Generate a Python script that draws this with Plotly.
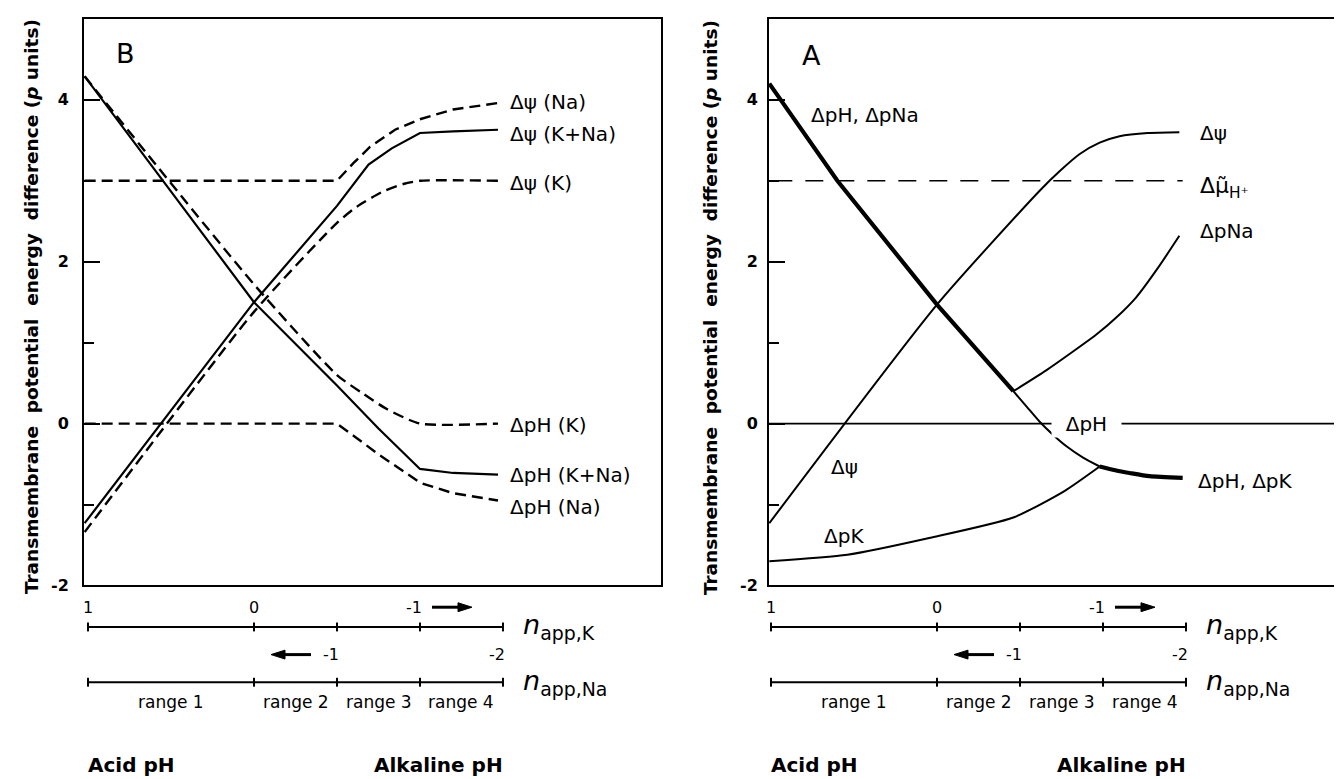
import plotly.graph_objects as go

W, H = 1342, 779
FONT = "DejaVu Sans"

# ---------------- data: panel B (left) ----------------
B_pH_KNa_n = [1.02, 0.0, -0.5, -0.75, -1.0, -1.2, -1.47]
B_pH_KNa_v = [4.29, 1.5, 0.47, -0.06, -0.56, -0.61, -0.63]
B_psi_KNa_n = [1.02, 0.0, -0.5, -0.69, -0.83, -1.0, -1.2, -1.47]
B_psi_KNa_v = [-1.23, 1.5, 2.69, 3.2, 3.4, 3.59, 3.61, 3.63]
B_psi_K_n = [1.02, 0.0, -0.5, -0.62, -0.77, -0.9, -1.0, -1.47]
B_psi_K_v = [-1.34, 1.38, 2.48, 2.68, 2.86, 2.96, 3.0, 3.0]
B_psi_Na_n = [1.02, -0.5, -0.6, -0.7, -0.85, -1.0, -1.2, -1.47]
B_psi_Na_v = [3.0, 3.0, 3.22, 3.42, 3.63, 3.76, 3.88, 3.96]
B_pH_K_n = [1.02, 0.0, -0.5, -0.65, -0.8, -1.0, -1.47]
B_pH_K_v = [4.29, 1.72, 0.6, 0.38, 0.18, 0.0, 0.0]
B_pH_Na_n = [1.02, -0.5, -0.62, -0.75, -0.88, -1.0, -1.2, -1.47]
B_pH_Na_v = [0.0, 0.0, -0.18, -0.38, -0.56, -0.73, -0.86, -0.95]

# ---------------- data: panel A (right) ----------------
A_pH_pNa_n = [1.01, 0.6, 0.0, -0.46]
A_pH_pNa_v = [4.2, 3.0, 1.47, 0.4]
A_pH_n = [-0.46, -0.54, -0.62, -0.7, -0.78, -0.88, -0.98]
A_pH_v = [0.4, 0.21, 0.02, -0.14, -0.28, -0.42, -0.53]
A_pH_pK_n = [-0.98, -1.08, -1.16, -1.28, -1.48]
A_pH_pK_v = [-0.53, -0.58, -0.61, -0.65, -0.67]
A_psi_n = [1.01, 0.0, -0.62, -0.74, -0.86, -0.98, -1.1, -1.27, -1.46]
A_psi_v = [-1.23, 1.47, 2.88, 3.12, 3.33, 3.47, 3.55, 3.59, 3.6]
A_pNa_n = [-0.46, -0.66, -0.96, -1.08, -1.2, -1.33, -1.46]
A_pNa_v = [0.4, 0.66, 1.1, 1.31, 1.56, 1.92, 2.32]
A_pK_n = [1.01, 0.54, 0.04, -0.46, -0.77, -0.98]
A_pK_v = [-1.7, -1.62, -1.41, -1.16, -0.83, -0.53]
A_mu_n = [0.98, -1.48]
A_mu_v = [3.0, 3.0]
A_zero_n = [1.012, -2.476]
A_zero_v = [0.0, 0.0]

# ---------------- axis / scale definitions ----------------
y_ticks = [-2, 0, 2, 4]
y_minor = [-1, 1, 3]
scale_ticks = [1, 0, -0.5, -1, -1.5]
k_tick_labels = [(1, "1"), (0, "0"), (-1, "-1")]
na_tick_labels = [(-0.5, "-1"), (-1.5, "-2")]
range_bounds = [1, 0, -0.5, -1, -1.5]
range_names_B = ["range 1", "range 2", "range 3", "range 4"]
range_names_A = ["range 1", "range 2", "range 3", "range 4"]

def X(px):
    return px / W

def Y(py):
    return (H - py) / H

fig = go.Figure()

def add_line(n, v, xa, ya, width, dash="solid", shape="linear"):
    fig.add_trace(go.Scatter(x=n, y=v, mode="lines", xaxis=xa, yaxis=ya,
                             line=dict(color="black", width=width, dash=dash, shape=shape,
                                       smoothing=0.6),
                             hoverinfo="skip", showlegend=False))

DASH_B = "11px,6px"
# panel B
add_line(B_pH_K_n, B_pH_K_v, "x", "y", 2.4, DASH_B, "spline")
add_line(B_pH_Na_n, B_pH_Na_v, "x", "y", 2.4, DASH_B, "linear")
add_line(B_psi_K_n, B_psi_K_v, "x", "y", 2.4, DASH_B, "spline")
add_line(B_psi_Na_n, B_psi_Na_v, "x", "y", 2.4, DASH_B, "linear")
add_line(B_pH_KNa_n, B_pH_KNa_v, "x", "y", 2.2)
add_line(B_psi_KNa_n, B_psi_KNa_v, "x", "y", 2.2)
# panel A
add_line(A_zero_n, A_zero_v, "x2", "y2", 1.6)
add_line(A_mu_n, A_mu_v, "x2", "y2", 1.6, "18px,13px")
add_line(A_pK_n, A_pK_v, "x2", "y2", 2.0, shape="spline")
add_line(A_pNa_n, A_pNa_v, "x2", "y2", 2.0, shape="spline")
add_line(A_psi_n, A_psi_v, "x2", "y2", 2.0, shape="spline")
add_line(A_pH_n, A_pH_v, "x2", "y2", 2.0, shape="spline")
add_line(A_pH_pNa_n, A_pH_pNa_v, "x2", "y2", 4.2)
add_line(A_pH_pK_n, A_pH_pK_v, "x2", "y2", 4.2, shape="spline")

ydom = [Y(585), Y(11)]
common_x = dict(showline=True, mirror=True, linecolor="black", linewidth=2,
                showticklabels=False, ticks="", showgrid=False, zeroline=False)
common_y = dict(showline=True, mirror=True, linecolor="black", linewidth=2,
                range=[-2, 5], tickvals=y_ticks, ticktext=[str(t) for t in y_ticks],
                ticks="inside", ticklen=16, tickwidth=2, tickcolor="black",
                minor=dict(tickvals=y_minor, ticks="inside", ticklen=10, tickwidth=2,
                           tickcolor="black"),
                showgrid=False, zeroline=False, domain=ydom,
                tickfont=dict(family=FONT, size=16, color="black", weight="bold"))

fig.update_layout(
    width=W, height=H, margin=dict(l=0, r=0, t=0, b=0),
    paper_bgcolor="white", plot_bgcolor="white",
    xaxis=dict(domain=[X(76), X(653)], range=[1.024, -2.452], anchor="y", **common_x),
    yaxis=dict(anchor="x", ticklabelstandoff=10, **common_y),
    xaxis2=dict(domain=[X(761), X(1340)], range=[1.012, -2.476], anchor="y2", **common_x),
    yaxis2=dict(anchor="x2", ticklabelstandoff=6, **common_y),
)

ann = []
shapes = []

def text(xp, yp, s, size=20, anchor="left", bold=False, angle=0, bg=None):
    d = dict(x=xp, y=yp, xref="paper", yref="paper", text=s, showarrow=False,
             xanchor=anchor, yanchor="middle", textangle=angle,
             font=dict(family=FONT, size=size, color="black",
                       weight="bold" if bold else "normal"))
    if bg:
        d["bgcolor"] = bg
    ann.append(d)

def arrow(x_head, x_tail, yp):
    # shaft
    d = 1 if x_head > x_tail else -1
    shapes.append(dict(type="line", xref="paper", yref="paper",
                       x0=X(x_tail), x1=X(x_head - d * 8), y0=Y(yp), y1=Y(yp),
                       line=dict(color="black", width=3)))
    # head
    path = "M {} {} L {} {} L {} {} Z".format(
        X(x_head), Y(yp), X(x_head - d * 14), Y(yp - 4.5), X(x_head - d * 14), Y(yp + 4.5))
    shapes.append(dict(type="path", xref="paper", yref="paper", path=path,
                       fillcolor="black", line=dict(color="black", width=1)))

ytitle = "Transmembrane\u00a0 potential\u00a0 energy\u00a0 difference (<i>p</i> units)"
text(X(23), Y(303), ytitle, size=18.5, anchor="center", bold=True, angle=-90)
text(X(702), Y(303), ytitle, size=18.5, anchor="center", bold=True, angle=-90)

# panel letters
text(X(117), Y(46), "B", size=27, anchor="center")
text(X(803), Y(48), "A", size=27, anchor="center")

# panel B curve labels
text(X(500), Y(95), "\u0394\u03c8 (Na)")
text(X(500), Y(128), "\u0394\u03c8 (K+Na)")
text(X(500), Y(177), "\u0394\u03c8 (K)")
text(X(500), Y(422), "\u0394pH (K)")
text(X(500), Y(473), "\u0394pH (K+Na)")
text(X(500), Y(505), "\u0394pH (Na)")

# panel A curve labels
text(X(801), Y(108), "\u0394pH, \u0394pNa")
text(X(1190), Y(127), "\u0394\u03c8")
text(X(1190), Y(182), "\u0394\u03bc\u0303<sub>H\u207a</sub>", size=22)
text(X(1190), Y(226), "\u0394pNa")
text(X(1078), Y(421), "\u00a0\u00a0\u0394pH\u00a0\u00a0", anchor="center", bg="white")
text(X(836), Y(465), "\u0394\u03c8", anchor="center")
text(X(814), Y(535), "\u0394pK")
text(X(1188), Y(479), "\u0394pH, \u0394pK")

# bottom scales
def scale(xref, y_line):
    lo, hi = scale_ticks[0], scale_ticks[-1]
    for yl in y_line:
        shapes.append(dict(type="line", xref=xref, yref="paper", x0=lo, x1=hi,
                           y0=Y(yl), y1=Y(yl), line=dict(color="black", width=2)))
        for t in scale_ticks:
            shapes.append(dict(type="line", xref=xref, yref="paper", x0=t, x1=t,
                               y0=Y(yl - 4.5), y1=Y(yl + 4.5), line=dict(color="black", width=2)))

for xref, names, base in (("x", range_names_B, 80), ("x2", range_names_A, 763)):
    scale(xref, [627, 683])
    px = lambda n: base + (1 - n) * 166
    for n, s in k_tick_labels:
        if n == -1:
            text(X(px(n) + 4), Y(607), s, size=16, anchor="right")
        else:
            text(X(px(n)), Y(607), s, size=16, anchor="center")
    for n, s in na_tick_labels:
        text(X(px(n) + 4), Y(655), s, size=16, anchor="right")
    for i, s in enumerate(names):
        c = (px(range_bounds[i]) + px(range_bounds[i + 1])) / 2
        text(X(c), Y(703), s, size=17, anchor="center")
    arrow(px(-1) + 52, px(-1) + 12, 607)
    arrow(px(-0.5) - 66, px(-0.5) - 26, 655)
    text(X(px(-1.5) + 18), Y(627), "<i>n</i><sub>app,K</sub>", size=27)
    text(X(px(-1.5) + 18), Y(683), "<i>n</i><sub>app,Na</sub>", size=27)
    text(X(px(1) - 2), Y(767), "Acid pH", size=20, bold=True)
    text(X(px(-1.5) + 2), Y(767), "Alkaline pH", size=20, anchor="right", bold=True)

fig.update_layout(annotations=ann, shapes=shapes)
fig.write_html("out.html")
